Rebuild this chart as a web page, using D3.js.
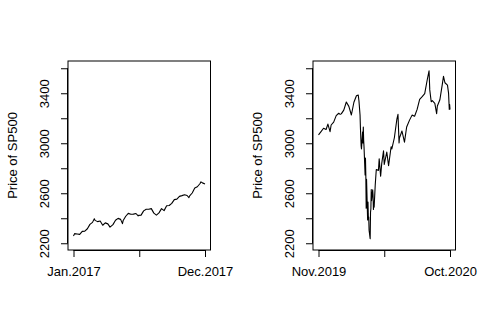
<!DOCTYPE html>
<html>
<head>
<meta charset="utf-8">
<script src="https://cdn.jsdelivr.net/npm/d3@7"></script>
<style>
  body { margin: 0; background: #fff; }
  text { font-family: "Liberation Sans", Arial, sans-serif; fill: #000; }
</style>
</head>
<body>
<div id="chart"></div>
<script>
// S&P 500 closes, 2017
const dates2017 = ["2017-01-03","2017-01-06","2017-01-13","2017-01-20","2017-01-27","2017-02-03","2017-02-10","2017-02-17","2017-02-24","2017-03-01","2017-03-03","2017-03-10","2017-03-17","2017-03-24","2017-03-31","2017-04-07","2017-04-13","2017-04-21","2017-04-28","2017-05-05","2017-05-12","2017-05-17","2017-05-19","2017-05-26","2017-06-02","2017-06-09","2017-06-16","2017-06-23","2017-06-29","2017-06-30","2017-07-07","2017-07-14","2017-07-21","2017-07-28","2017-08-04","2017-08-11","2017-08-18","2017-08-25","2017-09-01","2017-09-08","2017-09-15","2017-09-22","2017-09-29","2017-10-06","2017-10-13","2017-10-20","2017-10-27","2017-11-03","2017-11-10","2017-11-15","2017-11-17","2017-11-24","2017-12-01","2017-12-08","2017-12-15","2017-12-18","2017-12-22","2017-12-29"]
const prices2017 = [2258,2277,2274,2271,2295,2297,2316,2351,2367,2396,2383,2373,2378,2344,2363,2355,2329,2349,2384,2399,2391,2357,2382,2416,2439,2432,2433,2438,2419,2423,2425,2459,2472,2472,2477,2441,2425,2443,2477,2461,2500,2502,2519,2549,2553,2575,2581,2588,2582,2565,2579,2602,2642,2652,2676,2691,2683,2674]

// S&P 500 closes, Nov 2019 - Oct 2020
const dates2020 = ["2019-11-01","2019-11-08","2019-11-15","2019-11-22","2019-11-27","2019-12-03","2019-12-06","2019-12-13","2019-12-20","2019-12-27","2019-12-31","2020-01-03","2020-01-10","2020-01-17","2020-01-24","2020-01-31","2020-02-07","2020-02-14","2020-02-19","2020-02-21","2020-02-24","2020-02-25","2020-02-27","2020-02-28","2020-03-02","2020-03-03","2020-03-04","2020-03-05","2020-03-06","2020-03-09","2020-03-10","2020-03-11","2020-03-12","2020-03-13","2020-03-16","2020-03-17","2020-03-18","2020-03-19","2020-03-20","2020-03-23","2020-03-24","2020-03-25","2020-03-26","2020-03-27","2020-03-30","2020-03-31","2020-04-01","2020-04-02","2020-04-03","2020-04-06","2020-04-08","2020-04-09","2020-04-15","2020-04-17","2020-04-21","2020-04-24","2020-04-29","2020-05-01","2020-05-08","2020-05-13","2020-05-15","2020-05-20","2020-05-22","2020-05-29","2020-06-05","2020-06-08","2020-06-11","2020-06-12","2020-06-19","2020-06-26","2020-07-02","2020-07-10","2020-07-17","2020-07-24","2020-07-31","2020-08-07","2020-08-14","2020-08-21","2020-08-28","2020-09-02","2020-09-04","2020-09-08","2020-09-11","2020-09-18","2020-09-23","2020-09-25","2020-10-02","2020-10-09","2020-10-12","2020-10-16","2020-10-23","2020-10-26","2020-10-28","2020-10-29","2020-10-30"]
const prices2020 = [3067,3093,3120,3110,3153,3093,3146,3169,3221,3240,3231,3235,3265,3330,3295,3226,3328,3380,3386,3338,3226,3128,2979,2954,3090,3003,3130,3024,2972,2747,2882,2741,2481,2711,2386,2529,2398,2409,2305,2237,2447,2476,2630,2541,2627,2585,2471,2527,2489,2664,2750,2790,2783,2875,2737,2837,2940,2831,2930,2820,2864,2972,2955,3044,3194,3232,3002,3041,3098,3009,3130,3185,3225,3216,3271,3351,3373,3397,3508,3580,3427,3332,3341,3319,3237,3298,3348,3477,3535,3484,3465,3401,3271,3310,3270]

const yTicks = [2200, 2400, 2600, 2800, 3000, 3200, 3400, 3600]
const yLabels = [2200, 2600, 3000, 3400]
const yLim = [2146, 3658]

const panels = [
    { dates: dates2017, prices: prices2017, first: "Jan.2017", last: "Dec.2017" },
    { dates: dates2020, prices: prices2020, first: "Nov.2019", last: "Oct.2020" }
]

const svgWidth = 491
const svgHeight = 327
const fontSize = 13

// plot regions of the two panels
const boxes = [
    { left: 68, right: 210.5, top: 61, bottom: 250 },
    { left: 313, right: 455.5, top: 61, bottom: 250 }
]
const pad = 5.5

const svg = d3.select('#chart')
    .append('svg')
    .attr("width", svgWidth)
    .attr("height", svgHeight)

const parse = d3.timeParse("%Y-%m-%d")

panels.forEach((p, i) => {
    const b = boxes[i]
    const g = svg.append("g")

    const data = p.dates.map((d, k) => ({ date: parse(d), value: p.prices[k] }))

    const x = d3.scaleTime()
        .domain(d3.extent(data, d => d.date))
        .range([b.left + pad, b.right - pad])

    const y = d3.scaleLinear()
        .domain(yLim)
        .range([b.bottom, b.top])

    // line
    const line = d3.line()
        .x(d => x(d.date))
        .y(d => y(d.value))

    g.append("path")
        .datum(data)
        .attr("d", line)
        .attr("fill", "none")
        .attr("stroke", "#000")
        .attr("stroke-width", 1.1)
        .attr("stroke-linejoin", "round")

    // box
    g.append("rect")
        .attr("x", b.left)
        .attr("y", b.top)
        .attr("width", b.right - b.left)
        .attr("height", b.bottom - b.top)
        .attr("fill", "none")
        .attr("stroke", "#000")
        .attr("stroke-width", 1)

    // y axis
    const yAxis = d3.axisLeft(y)
        .tickValues(yTicks)
        .tickSize(7)
        .tickFormat(d => yLabels.includes(d) ? d : "")

    const ya = g.append("g")
        .attr("transform", `translate(${b.left},0)`)
        .call(yAxis)
    ya.select(".domain").attr("d", `M-0.5,${y(yTicks[0])}V${y(yTicks[yTicks.length - 1])}`)
    ya.selectAll(".tick line").attr("stroke", "#000")
    ya.selectAll("text")
        .attr("font-size", fontSize)
        .attr("x", 0)
        .attr("dy", 0)
        .attr("transform", "translate(-19,0) rotate(-90)")
        .style("text-anchor", "middle")

    // x axis: first, middle, last
    const [d0, d1] = x.domain()
    const mid = new Date((d0.getTime() + d1.getTime()) / 2)
    const xAxis = d3.axisBottom(x)
        .tickValues([d0, mid, d1])
        .tickSize(7)
        .tickFormat((d, k) => k == 0 ? p.first : (k == 2 ? p.last : ""))

    const xa = g.append("g")
        .attr("transform", `translate(0,${b.bottom})`)
        .call(xAxis)
    xa.select(".domain").attr("d", `M${x(d0)},0.5H${x(d1)}`)
    xa.selectAll("text")
        .attr("font-size", fontSize)
        .attr("y", 17)
        .attr("dy", "0.71em")

    // y axis title
    g.append("text")
        .attr("transform", `translate(${b.left - 51.5},${(b.top + b.bottom) / 2}) rotate(-90)`)
        .attr("text-anchor", "middle")
        .attr("font-size", fontSize)
        .text("Price of SP500")
})
</script>
</body>
</html>
